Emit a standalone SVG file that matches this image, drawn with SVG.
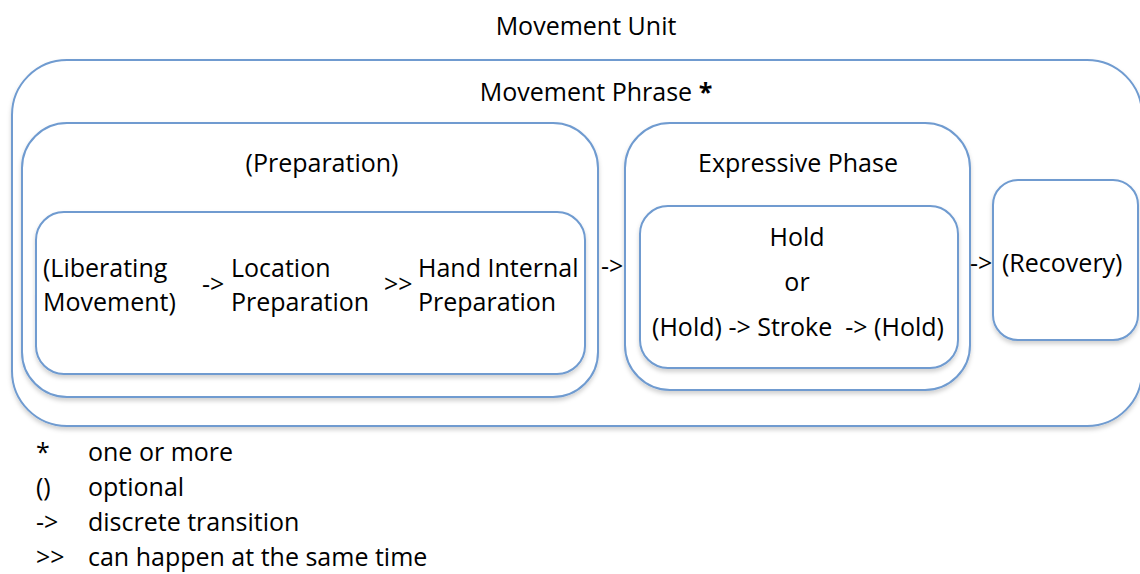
<svg xmlns="http://www.w3.org/2000/svg" width="1140" height="574" viewBox="0 0 1140 574">
<defs>
<filter id="sh" x="-5%" y="-5%" width="110%" height="115%">
<feDropShadow dx="0" dy="3" stdDeviation="2" flood-color="#000" flood-opacity="0.18"/>
</filter>
<style>
.box{fill:#fff;stroke:#6f9bd0;stroke-width:2;filter:url(#sh)}
text{font-family:"Open Sans","Liberation Sans",Arial,sans-serif;font-size:25px;fill:#000}
.c{text-anchor:middle}
</style>
</defs>
<rect width="1140" height="574" fill="#fff"/>
<text class="c" x="586" y="35">Movement Unit</text>
<g id="phrase">
<rect class="box" x="12" y="60" width="1130" height="366" rx="55"/>
<text class="c" x="596" y="101">Movement Phrase <tspan font-weight="bold">*</tspan></text>
</g>
<g id="preparation">
<rect class="box" x="22" y="123" width="576" height="274" rx="45"/>
<text class="c" x="322" y="172">(Preparation)</text>
</g>
<g id="prep-steps">
<rect class="box" x="36" y="212" width="549" height="162" rx="28"/>
<text x="43" y="277">(Liberating</text>
<text x="43" y="311">Movement)</text>
<text x="231" y="277">Location</text>
<text x="231" y="311">Preparation</text>
<text x="418" y="277">Hand Internal</text>
<text x="418" y="311">Preparation</text>
</g>
<g id="expressive">
<rect class="box" x="625" y="123" width="345" height="267" rx="45"/>
<text class="c" x="798" y="172">Expressive Phase</text>
</g>
<g id="hold-stroke">
<rect class="box" x="640" y="206" width="318" height="162" rx="28"/>
<text class="c" x="797" y="246">Hold</text>
<text class="c" x="797" y="291">or</text>
<text class="c" x="798" y="336" xml:space="preserve">(Hold) -&gt; Stroke  -&gt; (Hold)</text>
</g>
<g id="recovery">
<rect class="box" x="993" y="180" width="145" height="160" rx="25"/>
<text x="1002" y="272">(Recovery)</text>
</g>
<g id="connectors">
<text x="202" y="293">-&gt;</text>
<text x="384" y="293">&gt;&gt;</text>
<text x="601" y="275">-&gt;</text>
<text x="970" y="272">-&gt;</text>
</g>
<g id="legend">
<text x="36" y="461">*</text><text x="88" y="461">one or more</text>
<text x="36" y="496">()</text><text x="88" y="496">optional</text>
<text x="36" y="531">-&gt;</text><text x="88" y="531">discrete transition</text>
<text x="36" y="566">&gt;&gt;</text><text x="88" y="566">can happen at the same time</text>
</g>
</svg>
